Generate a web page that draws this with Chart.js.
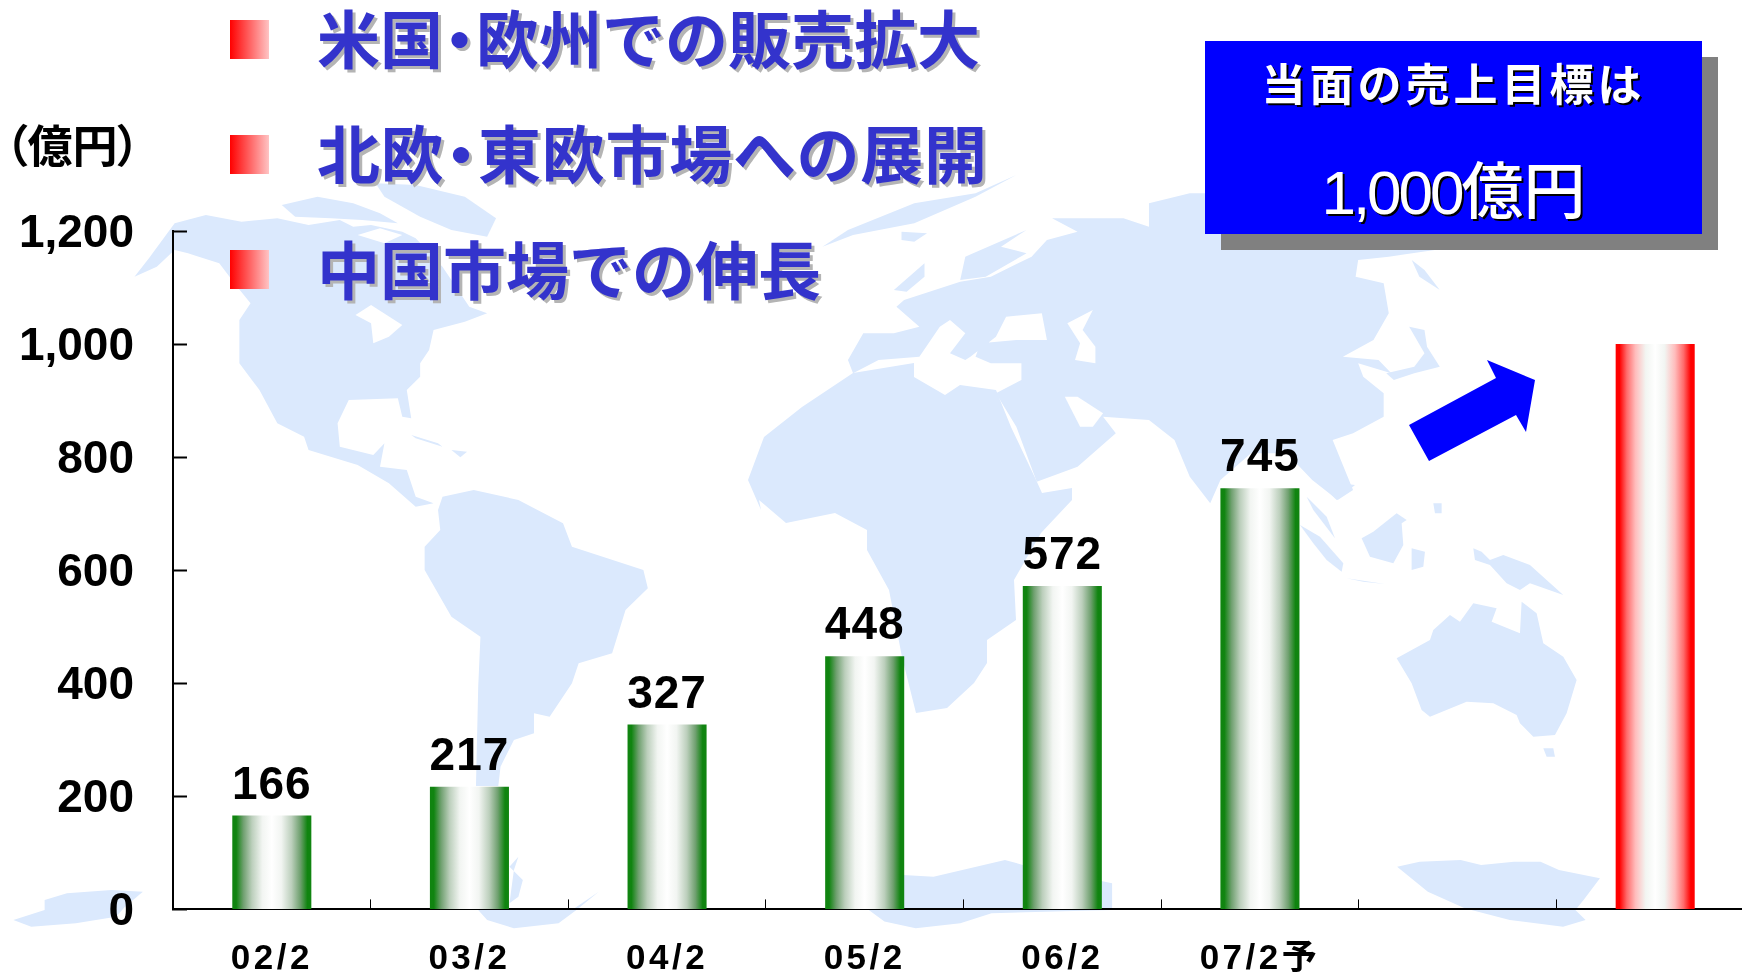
<!DOCTYPE html>
<html lang="ja">
<head>
<meta charset="utf-8">
<title>売上推移</title>
<script src="https://cdn.jsdelivr.net/npm/chart.js@4"></script>
<style>
  html, body { margin: 0; background: #fff; width: 1742px; height: 974px; overflow: hidden; }
  #page { position: relative; width: 1742px; height: 974px; overflow: hidden; font-family: "Noto Sans CJK JP", sans-serif; }
  #map, #chartBox, .abs { position: absolute; }
  #map { left: 0; top: 0; }
  #chartBox { left: 0; top: 0; width: 1754px; height: 990px; }
  .bullet { left: 230px; width: 39px; height: 39px; background: linear-gradient(to right, #ff0000, #ffc4c4); }
  .point { left: 317px; color: #3333cc; font-size: 63px; font-weight: 700; line-height: 70px; white-space: nowrap; text-shadow: 3px 3px 0 #b4b4b4; }
  .dot { margin: 0 -15px; }
  #unit { left: 5px; top: 120px; font-size: 45px; font-weight: 700; line-height: 48px; font-feature-settings: "palt"; color: #000; }
  #shadow { left: 1221px; top: 57px; width: 497px; height: 193px; background: #808080; }
  #goal { left: 1205px; top: 41px; width: 497px; height: 193px; background: #0000ff; color: #fff; text-align: center; }
  #goal div { position: absolute; left: 0; right: 0; text-shadow: 2px 2px 0 #000; white-space: nowrap; }
  #goal1 { top: 10px; font-size: 44px; font-weight: 700; line-height: 62px; letter-spacing: 4px; }
  #goal2 { top: 104px; font-size: 62px; font-weight: 500; line-height: 84px; }
  #goal2 span { font-family: "Liberation Sans", sans-serif; letter-spacing: -3px; }
  #arrow { left: 0; top: 0; }
</style>
</head>
<body>
<div id="page">
  <!-- world map backdrop, traced by hand -->
  <svg id="map" width="1742" height="974" fill="#dbe9fd">
    <g transform="translate(130,160) scale(0.4464,0.3333)">
      <polygon points="10,350 45,290 100,190 170,165 250,185 330,175 400,195 470,180 500,200 540,195 610,215 640,235 700,320 760,440 800,460 750,485 680,510 670,570 650,610 650,650 620,690 630,775 610,770 600,715 490,720 465,790 470,860 545,885 570,850 560,920 620,930 640,1010 680,1030 640,1040 580,970 510,915 400,870 390,830 330,790 290,690 245,610 245,480 270,430 240,380 200,310 130,280 100,270 60,320"/>
      <polygon points="550,70 640,75 750,110 820,175 800,230 720,210 650,170 570,110"/>
      <polygon points="340,135 420,110 500,130 560,160 600,190 520,180 450,175 370,170"/>
      <polygon fill="#fff" points="505,465 540,435 610,495 580,530 545,550 540,490"/>
      <polygon fill="#fff" points="510,225 560,205 610,225 570,250"/>
      <polygon points="630,825 690,850 700,860 640,835"/>
      <polygon points="720,870 755,875 740,892"/>
    </g>
    <g transform="translate(380,500) scale(0.4464,0.3333)">
      <polygon points="140,-10 210,-30 310,0 410,70 430,140 590,210 600,265 550,330 520,460 445,490 430,550 380,650 345,640 345,700 300,720 270,800 265,858 215,858 220,560 225,410 160,350 100,210 100,140 135,90 130,30"/>
      <polygon points="310,1070 290,1100 320,1140 310,1190 290,1210 300,1110"/>
      <polygon points="220,1230 430,1230 490,1175 440,1230 400,1270 300,1285 240,1260"/>
      <polygon points="1172,1125 1240,1130 1400,1080 1440,1095 1640,1150 1640,1230 1172,1230"/>
      <polygon points="1095,1230 1640,1230 1370,1240 1300,1270 1200,1285 1130,1265"/>
    </g>
    <polygon points="748,480 764,437 802,407 853,373 914,363 914,377 945,395 960,385 996,390 1011,427 1037,482 1042,493 1072,488 1072,500 1041,533 1014,580 1016,620 987,640 987,663 974,683 947,708 916,713 902,657 889,590 867,550 867,530 835,513 786,523 759,500 761,510"/>
    <g transform="translate(700,160) scale(0.5102,0.3333)">
      <polygon points="290,600 320,520 380,520 430,500 385,440 400,420 510,365 570,350 650,290 680,240 740,215 690,175 830,175 880,200 880,130 960,100 1100,100 1440,100 1440,270 1350,290 1290,300 1285,350 1340,370 1350,460 1320,540 1260,590 1330,600 1355,640 1290,610 1300,650 1340,700 1340,770 1280,820 1240,840 1280,990 1250,1020 1200,960 1150,880 1080,880 1020,960 1000,1030 960,950 930,840 880,780 790,770 815,820 740,920 660,965 620,800 580,700 630,660 630,610 570,610 540,590 550,550 620,540 680,540 670,460 600,470 580,530 530,590 520,600 490,580 520,520 490,480 470,500 430,590 350,600 300,640"/>
      <polygon fill="#fff" points="720,490 770,450 750,510 775,560 775,610 735,600 745,550"/>
      <polygon fill="#fff" points="715,710 740,710 790,760 770,800 745,800"/>
      <polygon points="380,390 440,310 440,350 405,395"/>
      <polygon points="510,360 520,290 640,210 590,260 640,280 560,350"/>
      <polygon points="395,215 445,220 420,245 395,240"/>
      <polygon points="620,45 540,100 420,130 290,210 240,260 300,225 420,190 540,110"/>
      <polygon points="1395,300 1420,330 1450,390 1410,350"/>
      <polygon points="1390,500 1420,510 1425,560 1450,620 1400,640 1360,660 1345,640 1400,620 1420,580"/>
    </g>
    <g transform="translate(1100,480) scale(0.3333)">
      <polygon points="650,0 765,15 710,60"/>
      <polygon points="620,50 680,110 705,175 640,90"/>
      <polygon points="600,135 660,170 730,250 725,275 680,240 640,190"/>
      <polygon points="740,295 855,312 790,305"/>
      <polygon points="890,100 920,120 905,130 910,195 880,250 810,230 785,175 820,155"/>
      <polygon points="935,205 975,215 970,260 935,270"/>
      <polygon points="1000,70 1025,70 1025,100 1005,100"/>
      <polygon points="1120,205 1145,215 1170,240 1210,225 1290,255 1390,345 1290,310 1260,330 1220,310 1170,255 1125,240"/>
      <polygon points="890,535 990,480 1000,450 1050,405 1080,425 1120,370 1190,385 1175,425 1260,460 1265,365 1310,400 1330,490 1390,530 1430,600 1400,700 1365,765 1300,770 1260,730 1250,705 1180,670 1100,665 990,710 965,690 935,610"/>
      <polygon points="1330,805 1360,805 1365,830 1340,830"/>
    </g>
    <g transform="translate(0,740) scale(0.4464,0.3333)">
      <polygon points="30,540 100,510 100,480 150,460 250,450 320,455 280,500 260,530 170,550 70,560"/>
    </g>
    <g transform="translate(1100,760) scale(0.4098,0.3333)">
      <polygon points="725,320 780,305 880,300 930,315 1010,305 1075,305 1120,330 1220,355 1180,420 1160,450 1185,480 1130,500 1000,480 890,445 800,395"/>
    </g>
  </svg>

  <div id="chartBox"><canvas id="chart"></canvas></div>

  <div class="abs bullet" style="top:20px"></div>
  <div class="abs bullet" style="top:135px"></div>
  <div class="abs bullet" style="top:250px"></div>
  <div class="abs point" style="top:1px">米国<span class="dot">・</span>欧州での販売拡大</div>
  <div class="abs point" style="top:116px;letter-spacing:0.7px">北欧<span class="dot">・</span>東欧市場への展開</div>
  <div class="abs point" style="top:232px">中国市場での伸長</div>
  <div class="abs" id="unit">（億円）</div>

  <div class="abs" id="shadow"></div>
  <div class="abs" id="goal">
    <div id="goal1">当面の売上目標は</div>
    <div id="goal2"><span>1,000</span>億円</div>
  </div>
  <svg class="abs" id="arrow" width="1742" height="974">
    <polygon fill="#0000ff" points="1409,425 1496,378 1487,360 1535,380 1526,432 1516,415 1429,461"/>
  </svg>
</div>

<script>
const categories = ["02/2", "03/2", "04/2", "05/2", "06/2", "07/2予", "", ""];
const salesValues = [166, 217, 327, 448, 572, 745, null, null]; // 億円
const targetValues = [null, null, null, null, null, null, null, 1000];

const numberFont = '"Liberation Sans", "Noto Sans CJK JP", sans-serif';
const barShare = 0.4; // bar width against the category width

// left-to-right metal look, edge colour through white and back
function barGradient(context, edge, mid, soft) {
  if (context.dataIndex === undefined) return edge;
  const chart = context.chart;
  const xScale = chart.scales.x;
  const center = xScale.getPixelForValue(context.dataIndex);
  const half = (xScale.width / categories.length) * barShare / 2;
  if (!isFinite(center) || !isFinite(half)) return edge; // scale not laid out yet
  const g = chart.ctx.createLinearGradient(center - half, 0, center + half, 0);
  g.addColorStop(0, edge);
  g.addColorStop(0.05, edge);
  g.addColorStop(0.14, mid);
  g.addColorStop(0.25, soft);
  g.addColorStop(0.38, "#f2f5f2");
  g.addColorStop(0.5, "#ffffff");
  g.addColorStop(0.62, "#f2f5f2");
  g.addColorStop(0.75, soft);
  g.addColorStop(0.86, mid);
  g.addColorStop(0.95, edge);
  g.addColorStop(1, edge);
  return g;
}

// numbers over the green bars; x tick labels sit on a later layer so they get their own spacing
const valueLabels = {
  id: "valueLabels",
  afterDatasetsDraw(chart) {
    const ctx = chart.ctx;
    const meta = chart.getDatasetMeta(0);
    ctx.save();
    ctx.font = 'bold 46px ' + numberFont;
    ctx.fillStyle = "#000";
    ctx.textAlign = "center";
    ctx.textBaseline = "alphabetic";
    ctx.letterSpacing = "1px";
    meta.data.forEach((bar, i) => {
      if (salesValues[i] === null) return;
      ctx.fillText(String(salesValues[i]), bar.x, bar.y - 17);
    });
    ctx.restore();
    ctx.letterSpacing = "3.5px";
  },
  afterDraw(chart) {
    chart.ctx.letterSpacing = "0px";
  },
};

new Chart(document.getElementById("chart"), {
  type: "bar",
  plugins: [valueLabels],
  data: {
    labels: categories,
    datasets: [
      {
        data: salesValues,
        backgroundColor: (c) => barGradient(c, "#108410", "#6fa06f", "#bccfbc"),
      },
      {
        data: targetValues,
        backgroundColor: (c) => barGradient(c, "#ff0000", "#ff6a6a", "#ffbcbc"),
      },
    ],
  },
  options: {
    responsive: true,
    maintainAspectRatio: false,
    animation: false,
    events: [],
    layout: { padding: { top: 231 } },
    plugins: { legend: { display: false }, tooltip: { enabled: false } },
    datasets: { bar: { grouped: false, barPercentage: barShare, categoryPercentage: 1 } },
    scales: {
      x: {
        afterFit: (scale) => { scale.height = 65.5; },
        border: { color: "#000", width: 2 },
        grid: { drawOnChartArea: false, color: "#000", tickLength: -10, tickWidth: 1 },
        ticks: {
          z: 1,
          color: "#000",
          padding: 38.5,
          maxRotation: 0,
          autoSkip: false,
          font: { family: numberFont, size: 35, weight: "bold" },
        },
      },
      y: {
        min: 0,
        max: 1200,
        afterFit: (scale) => { scale.width = 173; },
        border: { color: "#000", width: 2 },
        grid: { drawOnChartArea: false, color: "#000", tickLength: -14, tickWidth: 2 },
        ticks: {
          stepSize: 200,
          color: "#000",
          padding: 53,
          labelOffset: 3,
          callback: (v) => v.toLocaleString("en-US"),
          font: { family: numberFont, size: 46, weight: "bold" },
        },
      },
    },
  },
});
</script>
</body>
</html>
